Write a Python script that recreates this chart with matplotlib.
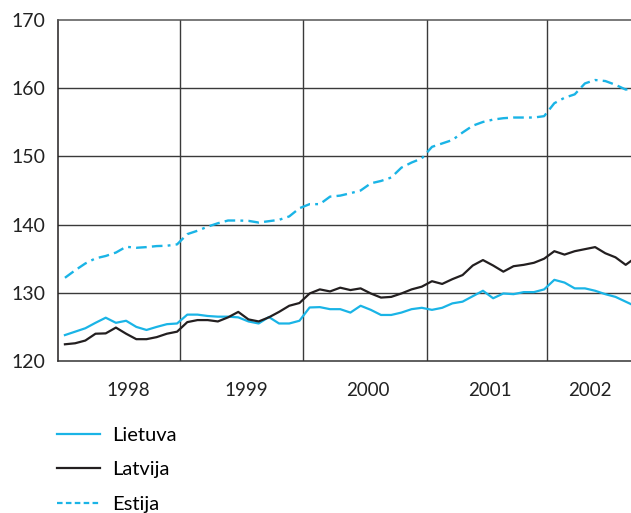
import numpy as np
import matplotlib
matplotlib.use('Agg')
import matplotlib.pyplot as plt
from matplotlib.lines import Line2D

# DATA (monthly index, Jan 1998 .. Sep 2002)
lietuva = [123.8, 124.3, 124.8, 125.6, 126.35, 125.6, 125.9, 125.0, 124.55, 125.0, 125.4, 125.5,
           126.8, 126.8, 126.6, 126.5, 126.5, 126.4, 125.8, 125.5, 126.45, 125.5, 125.5, 125.9,
           127.85, 127.9, 127.6, 127.6, 127.1, 128.1, 127.5, 126.75, 126.75, 127.1, 127.6, 127.8,
           127.5, 127.8, 128.45, 128.7, 129.5, 130.3, 129.2, 129.9, 129.8, 130.1, 130.1, 130.5,
           131.9, 131.5, 130.65, 130.65, 130.3, 129.8, 129.4, 128.7, 128.0]
latvija = [122.45, 122.6, 123.0, 124.0, 124.05, 124.9, 124.0, 123.2, 123.2, 123.5, 124.0, 124.3,
           125.7, 126.0, 126.0, 125.8, 126.4, 127.2, 126.1, 125.8, 126.4, 127.2, 128.1, 128.5,
           129.9, 130.5, 130.2, 130.75, 130.4, 130.65, 129.9, 129.3, 129.4, 129.9, 130.5, 130.9,
           131.7, 131.3, 132.0, 132.6, 134.0, 134.8, 134.0, 133.1, 133.9, 134.1, 134.4, 135.0,
           136.1, 135.6, 136.1, 136.4, 136.7, 135.8, 135.2, 134.1, 135.2]
estija = [132.2, 133.3, 134.3, 135.05, 135.4, 135.9, 136.75, 136.6, 136.7, 136.85, 136.9, 137.1,
          138.6, 139.1, 139.7, 140.2, 140.6, 140.6, 140.55, 140.3, 140.5, 140.7, 141.2, 142.4,
          143.0, 143.0, 144.1, 144.25, 144.6, 145.0, 146.05, 146.4, 146.9, 148.35, 149.1, 149.7,
          151.4, 151.9, 152.4, 153.5, 154.5, 155.05, 155.4, 155.6, 155.7, 155.7, 155.7, 155.9,
          157.8, 158.6, 159.1, 160.7, 161.2, 161.05, 160.5, 159.8, 160.0]
years = ['1998', '1999', '2000', '2001', '2002']
year_label_pos = [6.9, 18.5, 30.4, 42.4, 52.2]
year_bounds = [12, 24, 36.2, 48]
series_names = ['Lietuva', 'Latvija', 'Estija']

blue = '#1ab4e6'
black = '#231f20'
grid_col = '#3a3a3a'

plt.rcParams['font.family'] = ['Lato', 'DejaVu Sans']

fig = plt.figure(figsize=(6.31, 5.13), dpi=100)
ax = fig.add_axes([58/631, 1 - 361/513, 1 - 58/631, (361 - 20)/513])

x = np.arange(len(lietuva)) + 0.68

# grid lines
for yv in [130, 140, 150, 160]:
    ax.axhline(yv, color=grid_col, lw=1.0, zorder=1)
for xb in year_bounds:
    ax.axvline(xb, color=grid_col, lw=1.0, zorder=1)

ax.plot(x, lietuva, color=blue, lw=1.6, zorder=3)
ax.plot(x, latvija, color=black, lw=1.6, zorder=3)
ax.plot(x, estija, color=blue, lw=1.7, ls=(0, (4.5, 2.2, 4.5, 2.2, 1.2, 2.2)), zorder=3)

ax.set_xlim(0, 56.2)
ax.set_ylim(120, 170)
ax.set_yticks([120, 130, 140, 150, 160, 170])
ax.tick_params(axis='y', length=0, pad=9, labelsize=14, colors='#222222')
ax.set_xticks(year_label_pos)
ax.set_xticklabels(years)
ax.tick_params(axis='x', length=0, pad=15, labelsize=13.5, colors='#222222')

ax.spines['right'].set_visible(False)
ax.spines['top'].set_color('#555555')
ax.spines['left'].set_color(black)
ax.spines['bottom'].set_color('#333333')
for s in ['top', 'left', 'bottom']:
    ax.spines[s].set_linewidth(1.1)

handles = [Line2D([], [], color=blue, lw=1.6),
           Line2D([], [], color=black, lw=1.6),
           Line2D([], [], color=blue, lw=1.6, ls=(0, (2.5, 1.5)))]
fig.legend(handles, series_names, loc='upper left',
           bbox_to_anchor=(53/631, 1 - 423/513), frameon=False,
           fontsize=14.5, handlelength=2.15, handletextpad=0.6, labelspacing=0.85,
           borderaxespad=0, borderpad=0.2)

fig.savefig('out.png', dpi=100)
